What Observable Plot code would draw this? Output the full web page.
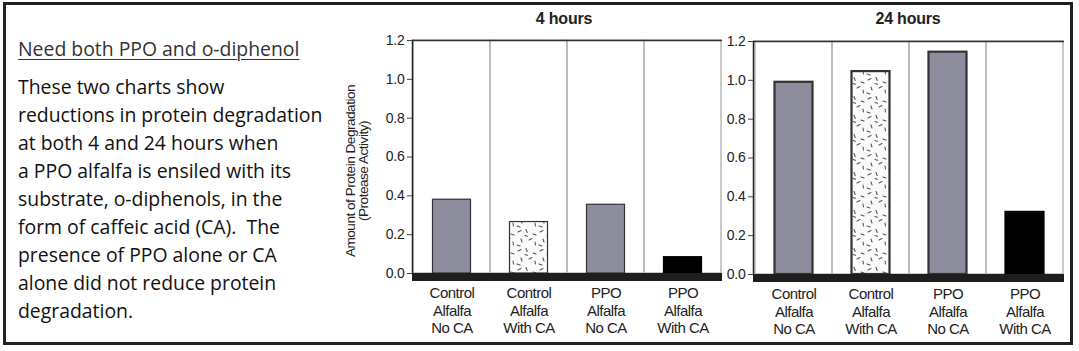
<!DOCTYPE html>
<html>
<head>
<meta charset="utf-8">
<script src="https://cdn.jsdelivr.net/npm/d3@7"></script>
<script src="https://cdn.jsdelivr.net/npm/@observablehq/plot@0.6"></script>
<style>
  html, body { margin: 0; padding: 0; background: #fff; }
  body { width: 1079px; height: 351px; position: relative; overflow: hidden; }
  #border { position: absolute; left: 3px; top: 2px; width: 1064px; height: 337px; border: 3.5px solid #222; }
  #head { position: absolute; left: 18px; top: 37px; margin: 0; font-family: "Open Sans", sans-serif; font-weight: normal; font-size: 19.4px; line-height: 24px; color: #333; text-decoration: underline; text-decoration-thickness: 1px; text-underline-offset: 3px; white-space: nowrap; }
  #body { position: absolute; left: 18px; top: 73px; margin: 0; font-family: "Open Sans", sans-serif; font-size: 19.4px; line-height: 28px; color: #111; white-space: nowrap; }
  .chart { position: absolute; top: 0; }
  .title { position: absolute; top: 10px; font-family: "Liberation Sans", Arial, sans-serif; font-weight: bold; font-size: 16px; letter-spacing: -0.2px; color: #222; transform: translateX(-50%); white-space: nowrap; }
  svg text { font-family: "Liberation Sans", Arial, sans-serif; letter-spacing: -0.5px; }
  svg g[aria-label="y-axis tick label"] text { letter-spacing: -0.2px; }
</style>
</head>
<body>
<svg width="0" height="0" style="position:absolute">
  <defs>
    <pattern id="speckle" width="22" height="19" patternUnits="userSpaceOnUse">
      <rect width="22" height="19" fill="#fbfbfb"/>
      <path d="M2 4l3 -1.5 M10 1.5l1.2 3 M17 6l3 1 M5 11l1 3 M13 12l3 -1.5 M1 17l3 1 M19 14l0.5 3 M9 7.5l2.5 0.8"
            stroke="#555" stroke-width="1.1" fill="none" stroke-linecap="round"/>
    </pattern>
  </defs>
</svg>
<div id="border"></div>
<div id="head">Need both PPO and o-diphenol</div>
<div id="body">These two charts show<br>reductions in protein degradation<br>at both 4 and 24 hours when<br>a PPO alfalfa is ensiled with its<br>substrate, o-diphenols, in the<br>form of caffeic acid (CA).&nbsp; The<br>presence of PPO alone or CA<br>alone did not reduce protein<br>degradation.</div>
<div id="t1" class="title">4 hours</div>
<div id="t2" class="title">24 hours</div>
<div id="c1" class="chart"></div>
<div id="c2" class="chart"></div>
<script>
const categories = ["Control Alfalfa No CA", "Control Alfalfa With CA", "PPO Alfalfa No CA", "PPO Alfalfa With CA"];
const tickLabels = ["Control\nAlfalfa\nNo CA", "Control\nAlfalfa\nWith CA", "PPO\nAlfalfa\nNo CA", "PPO\nAlfalfa\nWith CA"];
const values4h = [0.38, 0.265, 0.354, 0.084];
const values24h = [0.99, 1.045, 1.145, 0.32];
const yTicks = [0, 0.2, 0.4, 0.6, 0.8, 1.0, 1.2];
const fills = ["#8e8d9e", "url(#speckle)", "#8e8d9e", "#000000"];
const yLabel = "Amount of Protein Degradation\n(Protease Activity)";

function makeChart(values, opts) {
  const data = categories.map((c, i) => ({cat: c, value: values[i], fill: fills[i]}));
  const marks = [
    Plot.barY(categories, {x: d => d, y1: 0, y2: 1.2, fill: "none", stroke: "#b8b8b8", strokeWidth: 1.5}),
    Plot.ruleY([1.2], {stroke: "#333", strokeWidth: 1.5}),
    Plot.barY(data, {x: "cat", y: "value", fill: "fill", stroke: d => d.fill === "#000000" ? "#000" : "#333",
      strokeWidth: opts.barStroke, insetLeft: opts.inset, insetRight: opts.inset}),
    Plot.frame({anchor: "left", stroke: "#222", strokeWidth: 1.5}),
    Plot.ruleY([0], {stroke: "#1e1e1e", strokeWidth: 8, dy: 3.5}),
    Plot.axisY({ticks: yTicks, tickFormat: d3.format(".1f"), tickSize: 5, tickPadding: 3, fontSize: 14, label: null, color: "#222", stroke: "#444"}),
    Plot.axisX({tickSize: 0, tickPadding: 12, fontSize: 15, lineHeight: 1.17, tickFormat: d => tickLabels[categories.indexOf(d)], label: null, color: "#222"})
  ];
  if (opts.yLabel) {
    marks.push(Plot.text([yLabel], {frameAnchor: "left", rotate: -90, dx: -55, dy: 14, fontSize: 13.6, lineHeight: 0.95, fill: "#222", textAnchor: "middle", lineAnchor: "middle"}));
  }
  return Plot.plot({
    width: opts.width, height: 345,
    marginLeft: opts.ml, marginRight: opts.mr, marginTop: opts.mt, marginBottom: 345 - opts.zero,
    style: {background: "transparent", overflow: "visible"},
    x: {domain: categories, padding: 0, axis: null},
    y: {domain: [0, 1.2], axis: null},
    color: {type: "identity"},
    marks
  });
}

const c1 = document.getElementById("c1");
c1.style.left = "340px";
c1.appendChild(makeChart(values4h, {width: 385, ml: 72, mr: 3, mt: 40, zero: 273, inset: 19.5, barStroke: 1.2, yLabel: true}));
const c2 = document.getElementById("c2");
c2.style.left = "690px";
c2.appendChild(makeChart(values24h, {width: 380, ml: 63, mr: 6, mt: 41, zero: 274, inset: 19.5, barStroke: 2.2, yLabel: false}));
document.getElementById("t1").style.left = "564px";
document.getElementById("t2").style.left = "908px";
</script>
</body>
</html>
